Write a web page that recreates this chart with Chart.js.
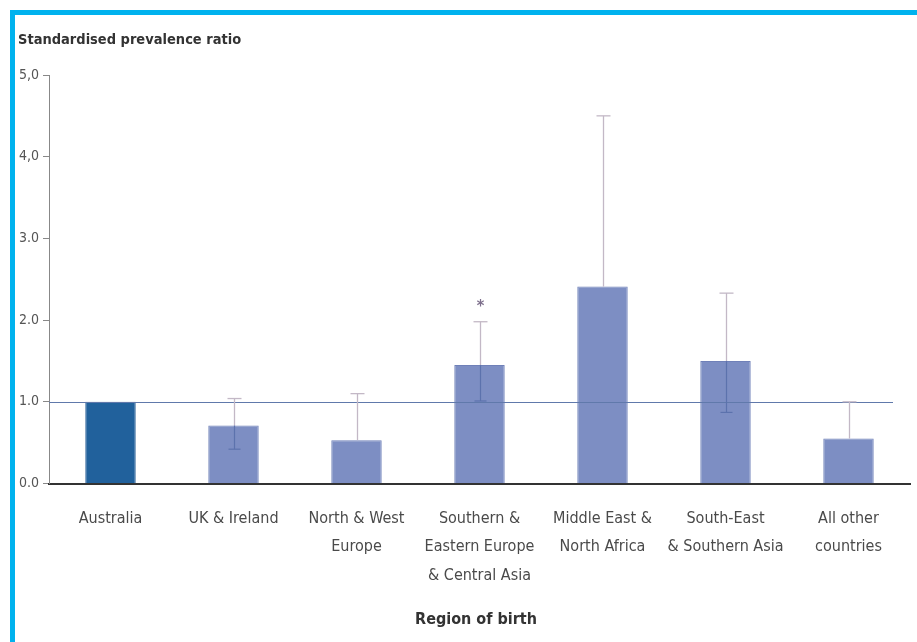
<!DOCTYPE html>
<html>
<head>
<meta charset="utf-8">
<script src="https://cdn.jsdelivr.net/npm/chart.js@4"></script>
<style>
  html, body { margin: 0; padding: 0; background: #ffffff; }
  #wrap { position: relative; width: 917px; height: 642px; overflow: hidden; }
  #frame { position: absolute; left: 10px; top: 10px; width: 1000px; height: 1000px;
           border-left: 5px solid #00b2ee; border-top: 5px solid #00b2ee; box-sizing: border-box; }
  canvas { position: absolute; left: 0; top: 0; }
</style>
</head>
<body>
<div id="wrap">
  <div id="frame"></div>
  <canvas id="c" width="917" height="642"></canvas>
</div>
<script>
const categories = [
  ["Australia"],
  ["UK & Ireland"],
  ["North & West", "Europe"],
  ["Southern &", "Eastern Europe", "& Central Asia"],
  ["Middle East &", "North Africa"],
  ["South-East", "& Southern Asia"],
  ["All other", "countries"]
];
const ratios     = [1.00, 0.71, 0.53, 1.45, 2.41, 1.50, 0.55];
const upperCI    = [null, 1.04, 1.10, 1.98, 4.50, 2.33, 1.00];
const lowerCI    = [null, 0.42, null, 1.01, null, 0.87, null];
const significance = ["", "", "", "*", "", "", ""];
const yTickLabels = ["0.0", "1.0", "2.0", "3.0", "4,0", "5,0"];
const referenceValue = 1.0;
const yTitle = "Standardised prevalence ratio";
const xTitle = "Region of birth";

const FONT = "'Liberation Sans Narrow', 'DejaVu Sans Condensed', sans-serif";
const barColors = ratios.map((v, i) => i === 0 ? "#21619c" : "#7d8ec3");
const barBorders = ratios.map((v, i) => i === 0 ? "#1a5590" : "#6f80b8");

const overlay = {
  id: "overlay",
  afterDatasetsDraw(chart) {
    const ctx = chart.ctx;
    const ys = chart.scales.y;
    const meta = chart.getDatasetMeta(0);
    ctx.save();
    // reference line
    const ry = Math.round(ys.getPixelForValue(referenceValue)) + 0.5;
    ctx.strokeStyle = "#6079ab";
    ctx.lineWidth = 1;
    ctx.beginPath();
    ctx.moveTo(chart.chartArea.left, ry);
    ctx.lineTo(chart.chartArea.right - 17, ry);
    ctx.stroke();
    // error bars
    meta.data.forEach((bar, i) => {
      const x = Math.round(bar.x) + 0.5;
      const top = bar.y;
      if (upperCI[i] !== null) {
        const uy = ys.getPixelForValue(upperCI[i]);
        ctx.strokeStyle = "#c3b8c6";
        ctx.lineWidth = 1.3;
        ctx.beginPath();
        ctx.moveTo(x, top);
        ctx.lineTo(x, uy);
        ctx.stroke();
        ctx.beginPath();
        ctx.moveTo(x - 7, uy);
        ctx.lineTo(x + 7, uy);
        ctx.stroke();
        if (significance[i]) {
          ctx.fillStyle = "#7d6f8c";
          ctx.font = "bold 16px " + FONT;
          ctx.textAlign = "center";
          ctx.textBaseline = "middle";
          ctx.fillText(significance[i], x, uy - 15);
        }
      }
      if (lowerCI[i] !== null) {
        const ly = ys.getPixelForValue(lowerCI[i]);
        ctx.strokeStyle = "#5c72ad";
        ctx.lineWidth = 1.2;
        ctx.beginPath();
        ctx.moveTo(x, top);
        ctx.lineTo(x, ly);
        ctx.stroke();
        ctx.beginPath();
        ctx.moveTo(x - 6, ly);
        ctx.lineTo(x + 6, ly);
        ctx.stroke();
      }
    });
    ctx.restore();
  },
  afterDraw(chart) {
    const ctx = chart.ctx;
    ctx.save();
    ctx.fillStyle = "#333333";
    ctx.font = "bold 14.5px " + FONT;
    ctx.textAlign = "left";
    ctx.textBaseline = "middle";
    ctx.fillText(yTitle, 18, 40);
    ctx.font = "bold 16px " + FONT;
    ctx.textAlign = "center";
    ctx.fillText(xTitle, 476, 620);
    ctx.restore();
  }
};

new Chart(document.getElementById("c"), {
  type: "bar",
  data: {
    labels: categories,
    datasets: [{
      data: ratios,
      backgroundColor: barColors,
      borderColor: barBorders,
      borderWidth: 1,
      barPercentage: 0.41,
      categoryPercentage: 1.0
    }]
  },
  options: {
    responsive: false,
    animation: false,
    devicePixelRatio: 1,
    layout: { padding: { left: 0, right: 7, top: 75, bottom: 0 } },
    plugins: { legend: { display: false }, tooltip: { enabled: false }, title: { display: false } },
    scales: {
      x: {
        grid: { display: false, drawTicks: false },
        border: { display: true, color: "#333333", width: 2 },
        ticks: {
          color: "#4a4a4a",
          font: { family: FONT, size: 16, lineHeight: 1.78 },
          padding: 21,
          maxRotation: 0,
          autoSkip: false
        },
        afterFit(scale) { scale.height = 642 - 483.5; }
      },
      y: {
        min: 0, max: 5,
        grid: { drawOnChartArea: false, drawTicks: true, tickLength: 6, color: "#888888" },
        border: { display: true, color: "#888888", width: 1 },
        ticks: {
          stepSize: 1,
          color: "#555555",
          font: { family: FONT, size: 14 },
          padding: 4,
          callback: (v, i) => yTickLabels[i]
        },
        afterFit(scale) { scale.width = 49; }
      }
    }
  },
  plugins: [overlay]
});
</script>
</body>
</html>
